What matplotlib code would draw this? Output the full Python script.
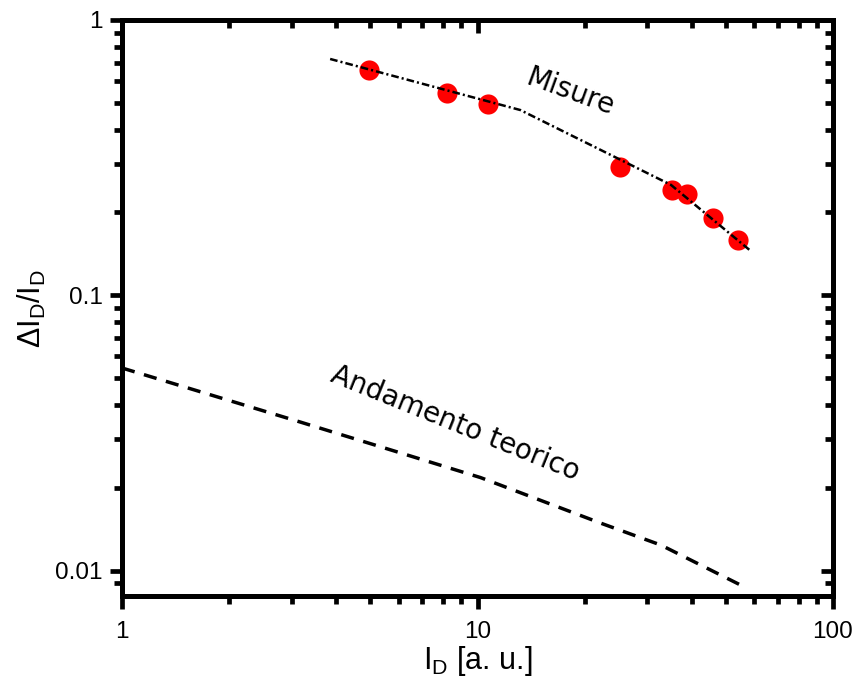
import matplotlib
matplotlib.use("Agg")
import matplotlib.pyplot as plt
from matplotlib.ticker import FixedLocator, FixedFormatter, LogLocator, NullFormatter

plt.rcParams['font.family'] = ['Liberation Sans', 'DejaVu Sans']
plt.rcParams['mathtext.default'] = 'regular'
plt.rcParams['lines.scale_dashes'] = False

# --- data ---
meas_x = [4.96, 8.23, 10.7, 25.1, 35.2, 38.8, 45.9, 54.0]
meas_y = [0.658, 0.543, 0.496, 0.293, 0.241, 0.234, 0.191, 0.159]

fit_x = [3.85, 13.2, 35.0, 58.7]
fit_y = [0.722, 0.471, 0.252, 0.145]

theory_x = [1.0, 3.17, 10.2, 22.2, 32.8, 56.9]
theory_y = [0.0545, 0.0347, 0.0218, 0.0149, 0.0124, 0.00868]

x_ticks = [1, 10, 100]
x_ticklabels = ["1", "10", "100"]
y_ticks = [0.01, 0.1, 1]
y_ticklabels = ["0.01", "0.1", "1"]

W, H = 859, 693
fig = plt.figure(figsize=(W / 100, H / 100), dpi=100)
rect = [122 / W, 1 - 596 / H, (833 - 122) / W, (596 - 20) / H]
ax = fig.add_axes(rect)

ax.set_xscale('log')
ax.set_yscale('log')
ax.set_xlim(1, 100)
ax.set_ylim(0.0081, 1)

ax.plot(meas_x, meas_y, 'o', color='#ff0000', markersize=14.5, markeredgewidth=0, zorder=2)
ax.plot(fit_x, fit_y, color='black', linewidth=1.8,
        dashes=(5.5, 2.2, 1.5, 2.2), zorder=3)
ax.plot(theory_x, theory_y, color='black', linewidth=2.5,
        dashes=(9.5, 7.0), zorder=3)

ax.text(18.2, 0.548, "Misure", family='DejaVu Sans', fontsize=20,
        rotation=-20, ha='center', va='center', rotation_mode='anchor')
ax.text(8.67, 0.0342, "Andamento teorico", family='DejaVu Sans', fontsize=20,
        rotation=-22, ha='center', va='center', rotation_mode='anchor')

for s in ax.spines.values():
    s.set_linewidth(3.6)

ax.xaxis.set_major_locator(FixedLocator(x_ticks))
ax.xaxis.set_major_formatter(FixedFormatter(x_ticklabels))
ax.yaxis.set_major_locator(FixedLocator(y_ticks))
ax.yaxis.set_major_formatter(FixedFormatter(y_ticklabels))
ax.xaxis.set_minor_locator(LogLocator(base=10, subs=range(2, 10)))
ax.yaxis.set_minor_locator(LogLocator(base=10, subs=range(2, 10)))
ax.xaxis.set_minor_formatter(NullFormatter())
ax.yaxis.set_minor_formatter(NullFormatter())

ax.tick_params(which='major', direction='out', length=9, width=3.4,
               labelsize=17.5, top=False, right=False)
ax.tick_params(which='minor', direction='out', length=6, width=3.4,
               top=False, right=False)
ax.tick_params(axis='x', which='major', pad=9)
ax.tick_params(axis='y', which='major', pad=5)

ax.set_xlabel("I$_{D}$ [a. u.]", fontsize=22, labelpad=1)
ax.set_ylabel("ΔI$_{D}$/I$_{D}$", fontsize=22, labelpad=5)

# overlay axes for inward ticks on top and right
ax2 = fig.add_axes(rect, frameon=False)
ax2.patch.set_visible(False)
ax2.set_xscale('log')
ax2.set_yscale('log')
ax2.set_xlim(ax.get_xlim())
ax2.set_ylim(ax.get_ylim())
ax2.xaxis.set_major_locator(FixedLocator(x_ticks))
ax2.yaxis.set_major_locator(FixedLocator(y_ticks))
ax2.xaxis.set_minor_locator(LogLocator(base=10, subs=range(2, 10)))
ax2.yaxis.set_minor_locator(LogLocator(base=10, subs=range(2, 10)))
ax2.tick_params(which='both', direction='in', top=True, right=True,
                bottom=False, left=False, labeltop=False, labelright=False,
                labelbottom=False, labelleft=False, width=3.4)
ax2.tick_params(which='major', length=9)
ax2.tick_params(which='minor', length=6)

fig.savefig("out.png", dpi=100)
